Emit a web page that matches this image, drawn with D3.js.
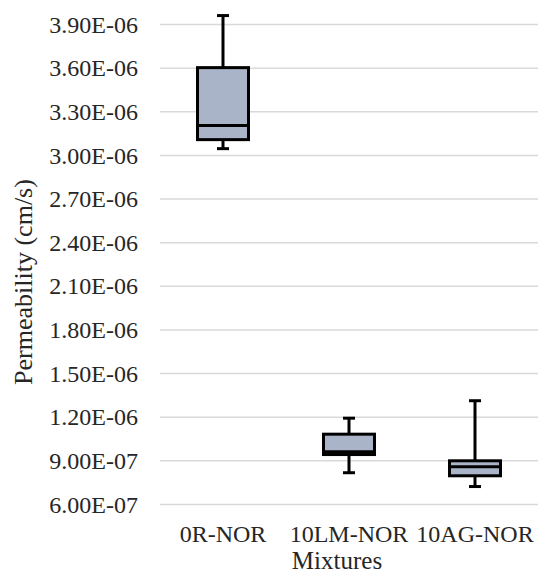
<!DOCTYPE html>
<html>
<head>
<meta charset="utf-8">
<script src="https://cdn.jsdelivr.net/npm/d3@7"></script>
<style>
  body { margin: 0; background: #fff; }
</style>
</head>
<body>
<div id="chart"></div>
<script>
// data
const mixtures = ["0R-NOR", "10LM-NOR", "10AG-NOR"];
const minVals = [3.043e-6, 0.815e-6, 0.72e-6];
const q1Vals = [3.105e-6, 0.94e-6, 0.794e-6];
const medianVals = [3.203e-6, 0.96e-6, 0.856e-6];
const q3Vals = [3.60e-6, 1.08e-6, 0.897e-6];
const maxVals = [3.958e-6, 1.19e-6, 1.31e-6];
const yTicks = [6e-7, 9e-7, 1.2e-6, 1.5e-6, 1.8e-6, 2.1e-6, 2.4e-6, 2.7e-6, 3.0e-6, 3.3e-6, 3.6e-6, 3.9e-6];

const data = mixtures.map((m, i) => ({
    name: m, min: minVals[i], q1: q1Vals[i], median: medianVals[i], q3: q3Vals[i], max: maxVals[i]
}));

const W = 539, H = 576;
const margin = { top: 24, right: 1, bottom: 72, left: 160 };
const serif = '"Liberation Serif"';
const ink = "#262626";

const svg = d3.select("#chart").append("svg")
    .attr("width", W)
    .attr("height", H);

const x = d3.scaleBand()
    .domain(mixtures)
    .range([margin.left, W - margin.right]);

const y = d3.scaleLinear()
    .domain([6e-7, 3.9e-6])
    .range([H - margin.bottom, margin.top]);

// 3.90E-06 style labels
function fmt(d) {
    const parts = d.toExponential(2).split("e");
    const e = +parts[1];
    return parts[0] + "E" + (e < 0 ? "-" : "+") + String(Math.abs(e)).padStart(2, "0");
}

// gridlines + tick labels
const yAxis = svg.append("g")
    .attr("transform", `translate(${W - margin.right},0)`)
    .call(d3.axisLeft(y)
        .tickValues(yTicks)
        .tickSize(W - margin.right - margin.left)
        .tickFormat(fmt));
yAxis.select(".domain").remove();
yAxis.selectAll(".tick line")
    .attr("stroke", "#d9d9d9")
    .attr("stroke-width", 1.5);
yAxis.selectAll(".tick text")
    .attr("x", -(W - margin.right - 138))
    .attr("dy", "0.34em")
    .style("font-family", serif)
    .style("font-size", "24px")
    .attr("fill", ink);

// category labels
const xAxis = svg.append("g")
    .attr("transform", `translate(0,${H - margin.bottom})`)
    .call(d3.axisBottom(x).tickSize(0).tickPadding(0));
xAxis.select(".domain").remove();
xAxis.selectAll(".tick text")
    .attr("y", 38)
    .attr("dy", 0)
    .style("font-family", serif)
    .style("font-size", "24px")
    .attr("fill", ink);

// boxes
const boxW = 51, capW = 12;
const g = svg.append("g")
    .selectAll("g")
    .data(data)
    .join("g")
    .attr("transform", d => `translate(${x(d.name) + x.bandwidth() / 2},0)`);

g.append("line")
    .attr("y1", d => y(d.max)).attr("y2", d => y(d.q3))
    .attr("stroke", "#000").attr("stroke-width", 3);
g.append("line")
    .attr("y1", d => y(d.q1)).attr("y2", d => y(d.min))
    .attr("stroke", "#000").attr("stroke-width", 3);
g.append("line")
    .attr("x1", -capW / 2).attr("x2", capW / 2)
    .attr("y1", d => y(d.max)).attr("y2", d => y(d.max))
    .attr("stroke", "#000").attr("stroke-width", 3);
g.append("line")
    .attr("x1", -capW / 2).attr("x2", capW / 2)
    .attr("y1", d => y(d.min)).attr("y2", d => y(d.min))
    .attr("stroke", "#000").attr("stroke-width", 3);
g.append("rect")
    .attr("x", -boxW / 2)
    .attr("width", boxW)
    .attr("y", d => y(d.q3))
    .attr("height", d => y(d.q1) - y(d.q3))
    .attr("fill", "#aab4c8")
    .attr("stroke", "#000")
    .attr("stroke-width", 3);
g.append("line")
    .attr("x1", -boxW / 2).attr("x2", boxW / 2)
    .attr("y1", d => y(d.median)).attr("y2", d => y(d.median))
    .attr("stroke", "#000").attr("stroke-width", 3);

// axis titles
svg.append("text")
    .attr("transform", "translate(32,282) rotate(-90)")
    .attr("text-anchor", "middle")
    .style("font-family", serif)
    .style("font-size", "26px")
    .attr("fill", ink)
    .text("Permeability  (cm/s)");

svg.append("text")
    .attr("x", 337)
    .attr("y", 569)
    .attr("text-anchor", "middle")
    .style("font-family", serif)
    .style("font-size", "25px")
    .attr("fill", ink)
    .text("Mixtures");
</script>
</body>
</html>
